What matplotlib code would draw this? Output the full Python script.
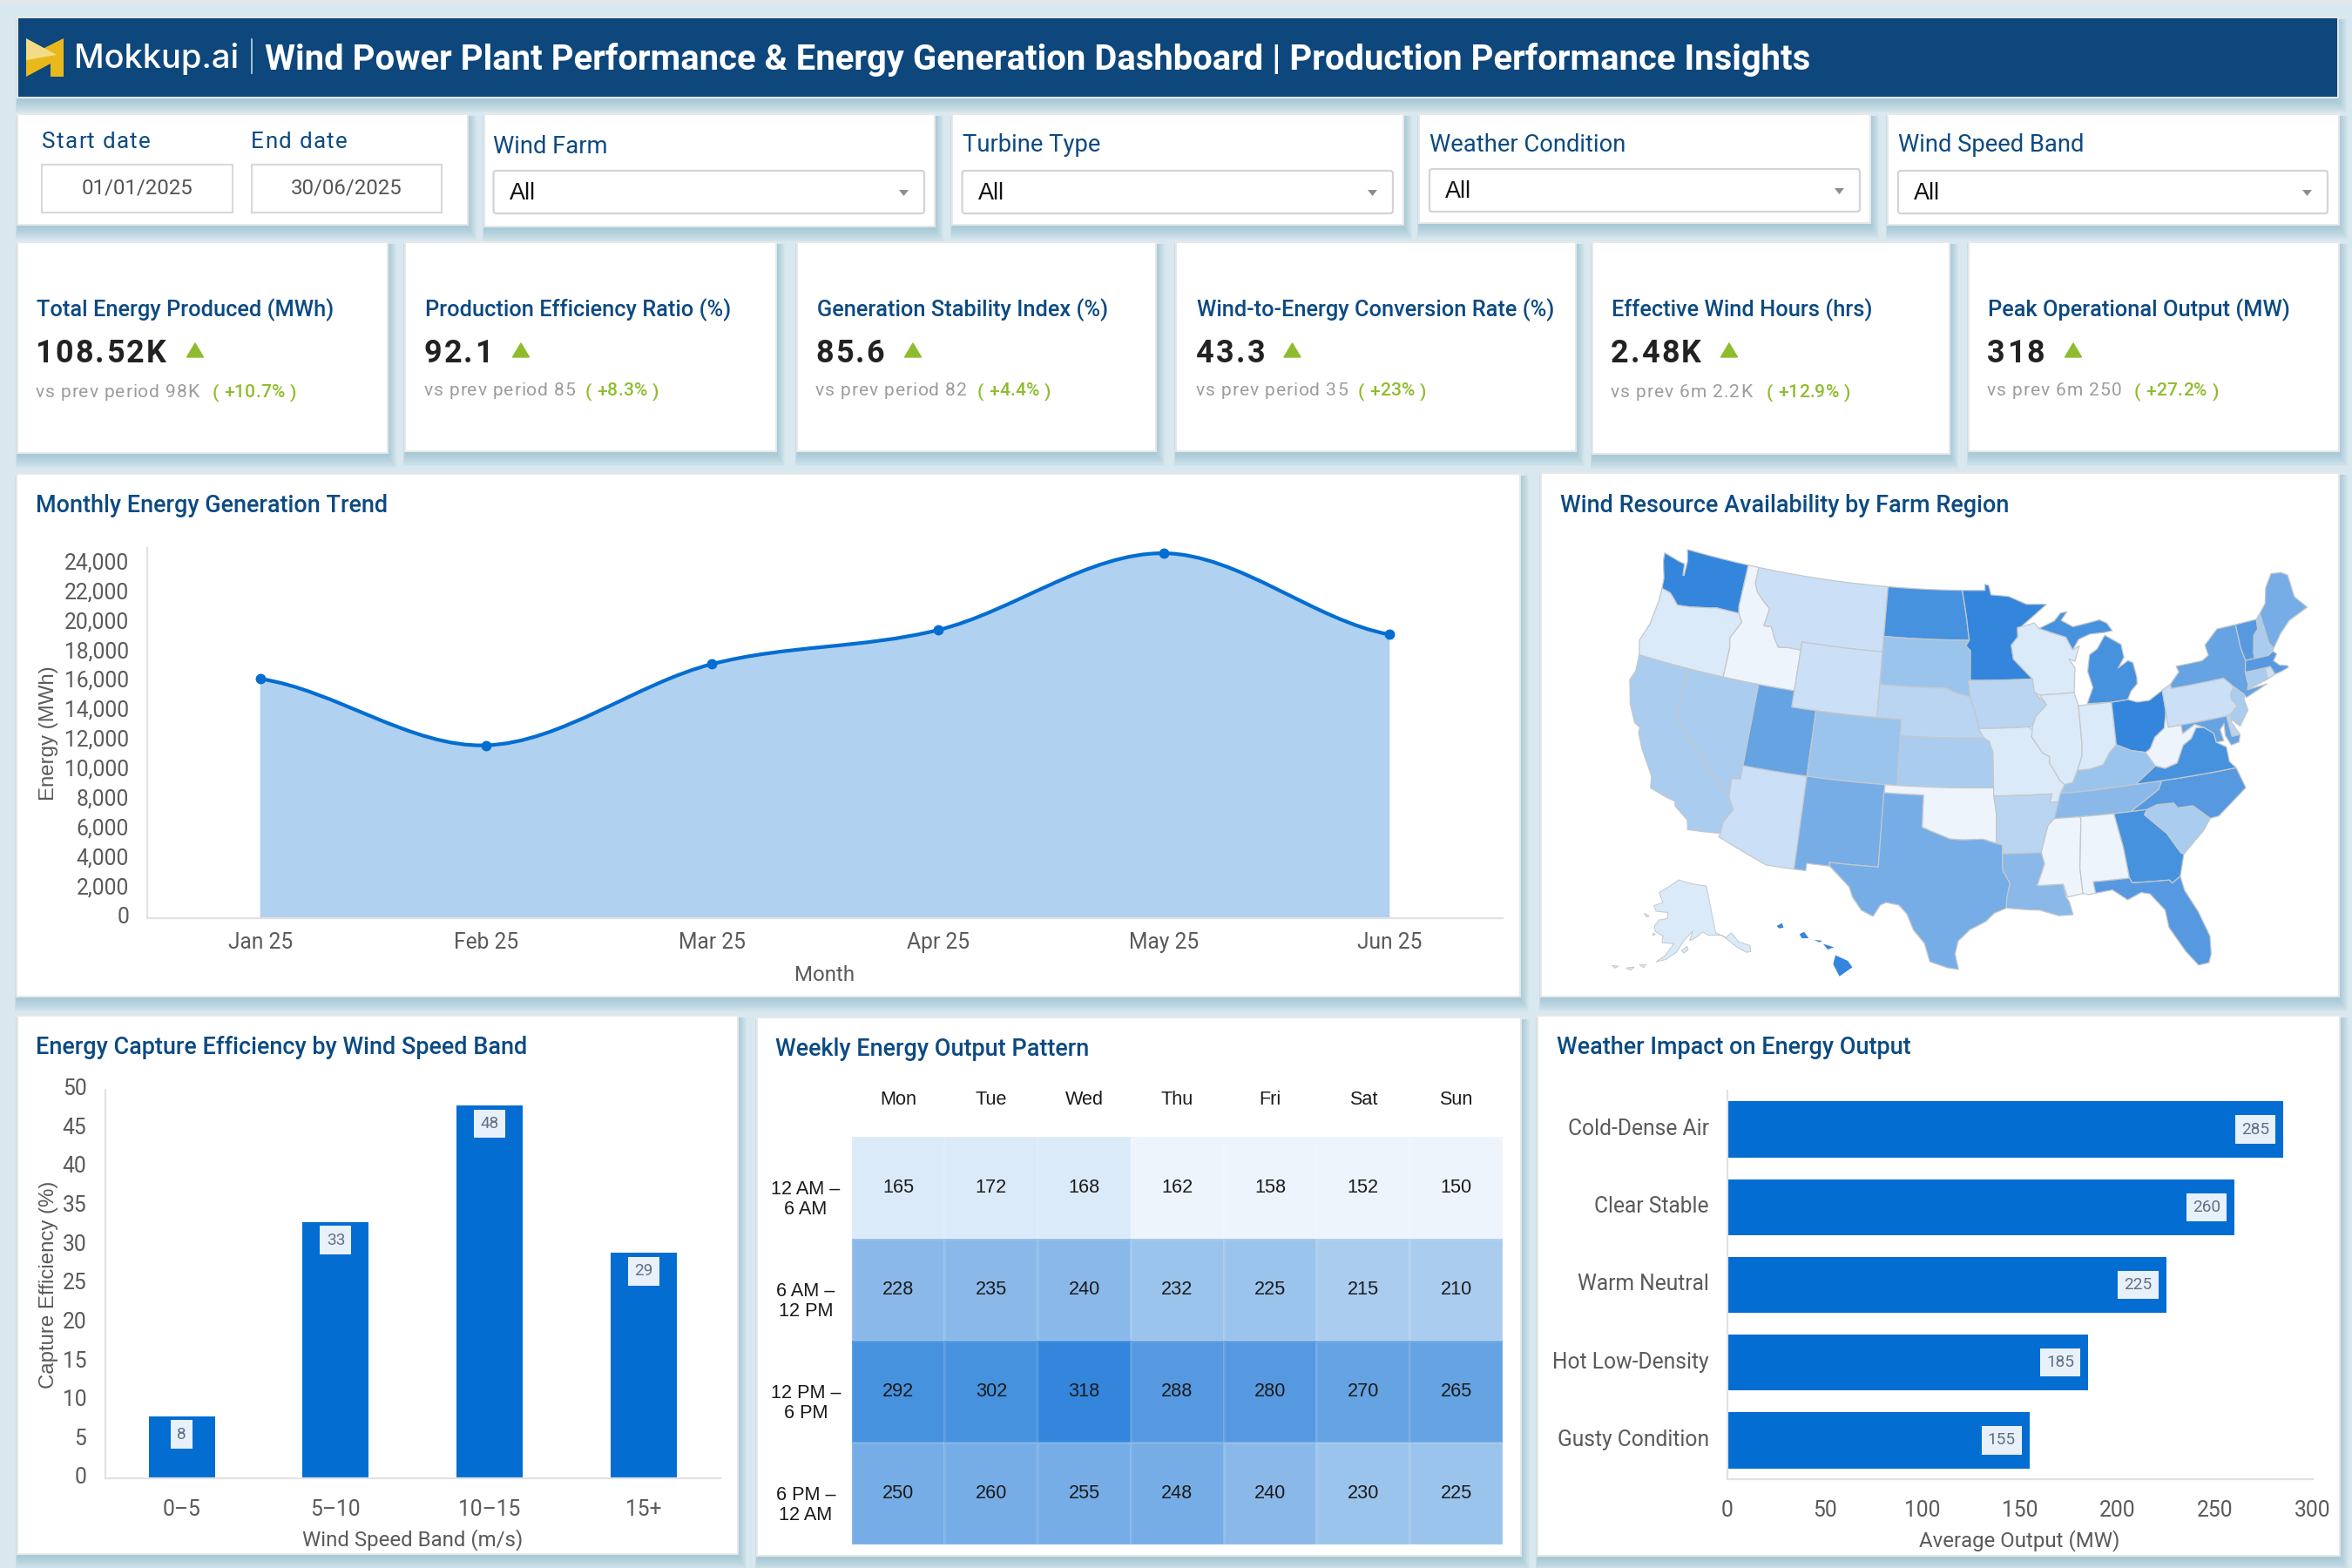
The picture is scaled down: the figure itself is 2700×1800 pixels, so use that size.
import numpy as np
import matplotlib
matplotlib.use('Agg')
import matplotlib.pyplot as plt
import matplotlib.patches as patches
from matplotlib.colors import ListedColormap
from matplotlib.font_manager import FontProperties
from matplotlib.path import Path
from matplotlib.textpath import text_to_path
from matplotlib.transforms import ScaledTranslation

W, H = 2700, 1800
NAVY = '#0d477c'
TITLE = '#0c4a82'
BAR = '#036dd1'
TICK = '#5a5a5a'
GREEN = '#8fbc2e'

# KPI cards
KPI_TITLES = ['Total Energy Produced (MWh)', 'Production Efficiency Ratio (%)', 'Generation Stability Index (%)',
              'Wind-to-Energy Conversion Rate (%)', 'Effective Wind Hours (hrs)', 'Peak Operational Output (MW)']
KPI_VALUES = ['108.52K', '92.1', '85.6', '43.3', '2.48K', '318']
KPI_PREV = ['vs prev period 98K', 'vs prev period 85', 'vs prev period 82',
            'vs prev period 35', 'vs prev 6m 2.2K', 'vs prev 6m 250']
KPI_DELTA = ['( +10.7% )', '( +8.3% )', '( +4.4% )', '( +23% )', '( +12.9% )', '( +27.2% )']

# Monthly trend
MONTHS = ['Jan 25', 'Feb 25', 'Mar 25', 'Apr 25', 'May 25', 'Jun 25']
ENERGY = [16200, 11700, 17200, 19500, 24700, 19200]

# Capture efficiency
BANDS = ['0–5', '5–10', '10–15', '15+']
EFFICIENCY = [8, 33, 48, 29]

# Heatmap
DAYS = ['Mon', 'Tue', 'Wed', 'Thu', 'Fri', 'Sat', 'Sun']
SLOTS = ['12 AM –\n6 AM', '6 AM –\n12 PM', '12 PM –\n6 PM', '6 PM –\n12 AM']
OUTPUT = [[165, 172, 168, 162, 158, 152, 150],
          [228, 235, 240, 232, 225, 215, 210],
          [292, 302, 318, 288, 280, 270, 265],
          [250, 260, 255, 248, 240, 230, 225]]
OUTPUT_SHADE = [[1, 1, 1, 0, 0, 0, 0],
                [6, 6, 6, 5, 5, 4, 4],
                [10, 10, 11, 9, 9, 8, 8],
                [7, 7, 7, 7, 6, 5, 5]]

# Weather impact
WEATHER = ['Cold-Dense Air', 'Clear Stable', 'Warm Neutral', 'Hot Low-Density', 'Gusty Condition']
WEATHER_OUTPUT = [285, 260, 225, 185, 155]

# Map shades, lightest to darkest
SHADES = ['#edf4fc', '#dbeaf8', '#cbe0f6', '#b9d5f1', '#aacdef', '#9bc4ec',
          '#8ab9e9', '#77ade6', '#65a3e3', '#5699e0', '#4792df', '#3386dc']
STATE_SHADE = {
    'WA': 11, 'OR': 1, 'ID': 0, 'MT': 2, 'WY': 2, 'CA': 4, 'NV': 4, 'UT': 8, 'AZ': 2, 'CO': 5, 'NM': 7,
    'ND': 10, 'SD': 5, 'NE': 3, 'KS': 4, 'OK': 0, 'TX': 7, 'MN': 11, 'IA': 3, 'MO': 1, 'AR': 3, 'LA': 6,
    'WI': 1, 'IL': 1, 'IN': 1, 'MI': 10, 'MIU': 10, 'OH': 11, 'KY': 5, 'TN': 6, 'MS': 0, 'AL': 0, 'GA': 10,
    'FL': 9, 'SC': 4, 'NC': 9, 'VA': 10, 'WV': 0, 'PA': 2, 'NY': 8, 'NJ': 4, 'DE': 3, 'MD': 8, 'CT': 4,
    'RI': 2, 'MA': 9, 'VT': 9, 'NH': 4, 'ME': 7,
}
# rough state outlines, lon/lat
STATES = {
    'WA': [(-124.7, 48.4), (-123.2, 48.15), (-122.7, 48.1), (-122.55, 47.4), (-122.45, 47.4), (-122.5, 48.3), (-122.8, 49), (-117.03, 49), (-117.04, 46.42), (-116.92, 45.99), (-118.98, 46), (-119.3, 45.93), (-121.2, 45.65), (-122.3, 45.55), (-122.8, 45.9), (-123.2, 46.15), (-124, 46.27), (-124.1, 46.9), (-124.6, 47.9)],
    'OR': [(-124, 46.27), (-123.2, 46.15), (-122.8, 45.9), (-122.3, 45.55), (-121.2, 45.65), (-119.3, 45.93), (-118.98, 46), (-116.92, 45.99), (-116.5, 45.5), (-117.2, 44.4), (-117.03, 43.8), (-117.03, 42), (-124.2, 42), (-124.55, 42.85), (-124.1, 44), (-123.95, 45.5)],
    'ID': [(-117.03, 49), (-116.05, 49), (-116.05, 48), (-115.7, 47.5), (-114.95, 47), (-114.35, 46.65), (-114.55, 45.56), (-113.9, 45.6), (-113.45, 44.95), (-113, 44.45), (-112, 44.53), (-111.05, 44.5), (-111.05, 42), (-117.03, 42), (-117.03, 43.8), (-117.2, 44.4), (-116.5, 45.5), (-116.92, 45.99), (-117.04, 46.42)],
    'MT': [(-116.05, 49), (-104.05, 49), (-104.05, 45), (-111.05, 45), (-111.05, 44.5), (-112, 44.53), (-113, 44.45), (-113.45, 44.95), (-113.9, 45.6), (-114.55, 45.56), (-114.35, 46.65), (-114.95, 47), (-115.7, 47.5), (-116.05, 48)],
    'WY': [(-111.05, 45), (-104.05, 45), (-104.05, 41), (-111.05, 41)],
    'NV': [(-120, 42), (-114.04, 42), (-114.04, 36.2), (-114.7, 36.1), (-114.63, 35), (-120, 39)],
    'CA': [(-124.2, 42), (-120, 42), (-120, 39), (-114.63, 35), (-114.13, 34.3), (-114.7, 33.4), (-114.72, 32.72), (-117.12, 32.53), (-117.3, 33.1), (-118.4, 33.75), (-118.5, 34.03), (-119.2, 34.15), (-120.5, 34.45), (-120.65, 35.15), (-121.9, 36.6), (-122.5, 37.5), (-122.5, 37.8), (-123, 38), (-123.75, 39), (-124.35, 40.4), (-124.1, 41)],
    'UT': [(-114.04, 42), (-111.05, 42), (-111.05, 41), (-109.05, 41), (-109.05, 37), (-114.04, 37)],
    'AZ': [(-114.04, 37), (-109.05, 37), (-109.05, 31.33), (-111.07, 31.33), (-114.8, 32.5), (-114.72, 32.72), (-114.7, 33.4), (-114.13, 34.3), (-114.63, 35), (-114.7, 36.1), (-114.04, 36.2)],
    'CO': [(-109.05, 41), (-102.05, 41), (-102.05, 37), (-109.05, 37)],
    'NM': [(-109.05, 37), (-103, 37), (-103.04, 32), (-106.6, 32), (-106.53, 31.78), (-108.2, 31.78), (-108.2, 31.33), (-109.05, 31.33)],
    'ND': [(-104.05, 49), (-97.23, 49), (-96.85, 47.5), (-96.56, 45.94), (-104.05, 45.94)],
    'SD': [(-104.05, 45.94), (-96.56, 45.94), (-96.85, 45.6), (-96.45, 45.3), (-96.45, 43.5), (-96.6, 43.5), (-96.45, 42.49), (-97.9, 42.8), (-98.5, 43), (-104.05, 43)],
    'NE': [(-104.05, 43), (-98.5, 43), (-97.9, 42.8), (-96.45, 42.49), (-96.1, 41.7), (-95.85, 41), (-95.31, 40), (-102.05, 40), (-102.05, 41), (-104.05, 41)],
    'KS': [(-102.05, 40), (-95.31, 40), (-94.9, 39.8), (-94.61, 39.1), (-94.62, 37), (-102.05, 37)],
    'OK': [(-103, 37), (-94.62, 37), (-94.43, 35.4), (-94.48, 33.64), (-95.5, 33.9), (-97, 33.85), (-97.9, 33.9), (-99.2, 34.3), (-100, 34.56), (-100, 36.5), (-103, 36.5)],
    'TX': [(-103.04, 36.5), (-100, 36.5), (-100, 34.56), (-99.2, 34.3), (-97.9, 33.9), (-97, 33.85), (-95.5, 33.9), (-94.48, 33.64), (-94.04, 33.55), (-94.04, 32), (-93.55, 31.2), (-93.8, 30.3), (-93.84, 29.7), (-94.7, 29.4), (-95.3, 28.9), (-96.4, 28.4), (-97.2, 27.7), (-97.4, 26.9), (-97.15, 25.96), (-97.9, 26.05), (-99.1, 26.4), (-99.5, 27.5), (-100.3, 28.3), (-100.8, 29.25), (-101.4, 29.77), (-102.3, 29.88), (-102.7, 29.7), (-103.15, 28.98), (-104, 29.3), (-104.7, 30.05), (-105, 30.65), (-106.53, 31.78), (-106.6, 32), (-103.04, 32)],
    'MN': [(-97.23, 49), (-95.15, 49), (-95.15, 49.38), (-94.8, 49.3), (-94.6, 48.72), (-93, 48.6), (-91.4, 48.07), (-89.6, 48), (-92, 46.7), (-92.3, 46.66), (-92.3, 46.1), (-92.9, 45.6), (-92.75, 44.75), (-91.2, 43.5), (-96.45, 43.5), (-96.45, 45.3), (-96.85, 45.6), (-96.56, 45.94), (-96.85, 47.5)],
    'IA': [(-96.45, 43.5), (-91.2, 43.5), (-91.1, 42.7), (-90.15, 41.9), (-91.1, 41.2), (-91.4, 40.6), (-91.73, 40.61), (-95.77, 40.58), (-95.85, 41), (-96.1, 41.7), (-96.45, 42.49), (-96.6, 43.5)],
    'MO': [(-95.77, 40.58), (-91.73, 40.61), (-91.4, 40.4), (-91.5, 40), (-90.7, 39), (-90.15, 38.75), (-90.2, 38.4), (-89.5, 37.3), (-89.13, 37), (-89.5, 36.5), (-89.7, 36), (-90.37, 36), (-90.15, 36.5), (-94.62, 36.5), (-94.62, 39.1), (-94.9, 39.8), (-95.31, 40)],
    'AR': [(-94.62, 36.5), (-90.15, 36.5), (-90.37, 36), (-89.7, 36), (-90.1, 35), (-90.6, 34.6), (-91.2, 33), (-94.04, 33), (-94.04, 33.55), (-94.48, 33.64), (-94.43, 35.4)],
    'LA': [(-94.04, 33), (-91.2, 33), (-91, 32.3), (-91.6, 31), (-89.75, 31), (-89.6, 30.2), (-89.4, 29.9), (-89.2, 29.1), (-90.2, 29.1), (-91.5, 29.5), (-92.3, 29.55), (-93.84, 29.7), (-93.8, 30.3), (-93.55, 31.2), (-94.04, 32)],
    'WI': [(-92.3, 46.66), (-92, 46.7), (-90.8, 46.9), (-90.4, 46.55), (-88.1, 45.9), (-87.6, 45.1), (-87, 45.3), (-87.5, 44.4), (-88, 44.55), (-87.55, 44), (-87.8, 42.5), (-90.65, 42.5), (-91.1, 42.7), (-91.2, 43.5), (-92.75, 44.75), (-92.9, 45.6), (-92.3, 46.1)],
    'IL': [(-90.65, 42.5), (-87.8, 42.5), (-87.53, 41.7), (-87.53, 39.3), (-87.6, 38.7), (-88.05, 37.8), (-88.5, 37.1), (-89.13, 37), (-89.5, 37.3), (-90.2, 38.4), (-90.15, 38.75), (-90.7, 39), (-91.5, 40), (-91.4, 40.6), (-91.1, 41.2), (-90.15, 41.9)],
    'IN': [(-87.53, 41.7), (-87, 41.7), (-84.8, 41.7), (-84.82, 39.1), (-85.4, 38.7), (-86, 38), (-87.1, 37.8), (-88.05, 37.8), (-87.6, 38.7), (-87.53, 39.3)],
    'OH': [(-84.8, 41.7), (-83.45, 41.73), (-82.7, 41.5), (-81.7, 41.5), (-80.52, 41.98), (-80.52, 40.64), (-80.85, 39.7), (-81.7, 39.25), (-82.2, 38.6), (-82.6, 38.42), (-83.7, 38.65), (-84.82, 39.1)],
    'MI': [(-86.8, 41.76), (-84.8, 41.7), (-83.45, 41.73), (-83.1, 42.2), (-82.5, 42.6), (-82.45, 43), (-82.6, 43.9), (-83, 44.07), (-83.9, 43.7), (-83.3, 44.3), (-83.4, 45.1), (-84.7, 45.78), (-85.5, 45), (-86.2, 44.7), (-86.5, 43.7), (-86.2, 42.7)],
    'MIU': [(-90.4, 46.55), (-89, 46.95), (-88.4, 47.4), (-87.8, 47.45), (-88.4, 46.95), (-87.4, 46.5), (-85, 46.75), (-84.4, 46.5), (-84, 46), (-84.7, 45.95), (-86, 45.95), (-87, 45.7), (-87.6, 45.1), (-88.1, 45.9)],
    'KY': [(-89.5, 36.5), (-89.13, 37), (-88.5, 37.1), (-88.05, 37.8), (-87.1, 37.8), (-86, 38), (-85.4, 38.7), (-84.82, 39.1), (-83.7, 38.65), (-82.6, 38.42), (-82, 37.53), (-83.68, 36.6), (-88.07, 36.5)],
    'TN': [(-90.1, 35), (-89.7, 36), (-89.5, 36.5), (-88.07, 36.5), (-83.68, 36.6), (-81.68, 36.59), (-82, 36.1), (-84.32, 35), (-85.6, 34.99), (-88.2, 35)],
    'MS': [(-90.1, 35), (-88.2, 35), (-88.1, 34.9), (-88.47, 31.9), (-88.4, 30.35), (-89.5, 30.2), (-89.75, 31), (-91.6, 31), (-91, 32.3), (-91.2, 33), (-90.6, 34.6)],
    'AL': [(-88.2, 35), (-85.6, 34.99), (-85.18, 32.87), (-85, 31), (-87.6, 31), (-87.5, 30.3), (-88, 30.25), (-88.4, 30.35), (-88.47, 31.9), (-88.1, 34.9)],
    'GA': [(-85.6, 34.99), (-83.1, 35), (-83.35, 34.7), (-81.9, 33.4), (-81.1, 32.1), (-80.9, 32), (-81.4, 30.7), (-82.05, 30.36), (-82.2, 30.57), (-84.86, 30.7), (-85, 31), (-85.18, 32.87)],
    'FL': [(-87.6, 31), (-85, 31), (-84.86, 30.7), (-82.2, 30.57), (-82.05, 30.36), (-81.4, 30.7), (-81.25, 29.8), (-80.55, 28.4), (-80.03, 26.8), (-80.15, 25.7), (-80.4, 25.2), (-81.1, 25.15), (-81.8, 26.1), (-82.7, 27.7), (-82.8, 28.8), (-83.7, 29.9), (-84.3, 30.05), (-85.3, 29.7), (-86.3, 30.4), (-87.5, 30.3)],
    'SC': [(-83.1, 35), (-82.3, 35.2), (-81.05, 35.15), (-80.8, 34.82), (-79.67, 34.8), (-78.55, 33.86), (-79.2, 33.2), (-80.9, 32), (-81.1, 32.1), (-81.9, 33.4), (-83.35, 34.7)],
    'NC': [(-84.32, 35), (-82, 36.1), (-81.68, 36.59), (-75.9, 36.55), (-75.5, 35.25), (-76.5, 34.7), (-77.9, 33.9), (-78.55, 33.86), (-79.67, 34.8), (-80.8, 34.82), (-81.05, 35.15), (-82.3, 35.2), (-83.1, 35)],
    'VA': [(-83.68, 36.6), (-81.68, 36.59), (-75.9, 36.55), (-76.3, 37), (-76.3, 37.9), (-77, 38.3), (-77.05, 38.85), (-77.72, 39.32), (-78.35, 39.4), (-78.9, 38.8), (-79.6, 38.5), (-80.3, 37.5), (-81.3, 37.3), (-82, 37.53)],
    'WV': [(-82.6, 38.42), (-82.2, 38.6), (-81.7, 39.25), (-80.85, 39.7), (-80.52, 40.64), (-80.52, 39.72), (-79.48, 39.72), (-79.48, 39.2), (-78.4, 39.62), (-77.72, 39.32), (-78.35, 39.4), (-78.9, 38.8), (-79.6, 38.5), (-80.3, 37.5), (-81.3, 37.3), (-82, 37.53)],
    'PA': [(-80.52, 41.98), (-79.76, 42.27), (-79.76, 42), (-75.35, 42), (-74.7, 41.36), (-75.1, 40.95), (-75.1, 40.6), (-74.75, 40.2), (-75.4, 39.8), (-75.79, 39.72), (-80.52, 39.72)],
    'NY': [(-79.76, 42), (-79.76, 42.27), (-78.9, 42.9), (-79.05, 43.27), (-76.8, 43.3), (-76.2, 43.55), (-76.3, 44.2), (-75, 45), (-73.35, 45), (-73.4, 43.6), (-73.25, 42.75), (-73.5, 42.05), (-73.5, 41.3), (-73.65, 41), (-72, 41.05), (-73.9, 40.55), (-74, 40.75), (-74.7, 41.36), (-75.35, 42)],
    'NJ': [(-74.7, 41.36), (-74, 40.75), (-74.1, 40.4), (-74, 39.8), (-74.9, 38.95), (-75.5, 39.5), (-75.4, 39.8), (-74.75, 40.2), (-75.1, 40.6), (-75.1, 40.95)],
    'DE': [(-75.79, 39.72), (-75.4, 39.8), (-75.5, 39.3), (-75.05, 38.45), (-75.7, 38.45)],
    'MD': [(-79.48, 39.72), (-75.79, 39.72), (-75.7, 38.45), (-75.05, 38.45), (-75.25, 38.03), (-75.9, 37.95), (-76.2, 38.6), (-76.1, 39.3), (-76.5, 39), (-76.4, 38.3), (-77, 38.3), (-77.05, 38.85), (-77.72, 39.32), (-78.4, 39.62), (-79.48, 39.2)],
    'CT': [(-73.5, 42.05), (-71.8, 42.02), (-71.85, 41.32), (-73.65, 41), (-73.5, 41.3)],
    'RI': [(-71.8, 42.02), (-71.38, 42.02), (-71.15, 41.5), (-71.85, 41.32)],
    'MA': [(-73.5, 42.05), (-73.25, 42.75), (-71.3, 42.7), (-70.85, 42.88), (-70.6, 42.65), (-71, 42.3), (-70.6, 41.95), (-70, 41.8), (-69.95, 41.68), (-70.65, 41.55), (-71.15, 41.5), (-71.38, 42.02), (-71.8, 42.02)],
    'VT': [(-73.35, 45), (-71.5, 45), (-71.6, 44.4), (-72.05, 44.1), (-72.45, 43), (-72.46, 42.73), (-73.25, 42.75), (-73.4, 43.6)],
    'NH': [(-71.5, 45), (-71.08, 45.3), (-70.98, 43.4), (-70.7, 43.05), (-70.85, 42.88), (-71.3, 42.7), (-72.46, 42.73), (-72.45, 43), (-72.05, 44.1), (-71.6, 44.4)],
    'ME': [(-71.08, 45.3), (-70.4, 45.8), (-70, 46.7), (-69.2, 47.45), (-68.3, 47.35), (-67.8, 47.07), (-67.8, 45.7), (-67, 44.85), (-68.8, 44.4), (-69.8, 43.8), (-70.7, 43.05), (-70.98, 43.4)],
}
ALASKA = [
    [(-141, 69.65), (-141, 60.3), (-137.5, 58.9), (-135, 59.5), (-133.5, 57.5), (-130, 56), (-130.5, 54.8), (-132, 55), (-134.5, 56.5), (-136.5, 58), (-139, 59.6), (-144, 60), (-146, 60.8), (-148.5, 60), (-151.5, 59.3), (-150, 61.2), (-153.5, 59.5), (-156.5, 57), (-160, 55.5), (-163.3, 54.8), (-160.5, 56.2), (-157.5, 58.7), (-162, 58.7), (-162, 60), (-165.3, 60.7), (-166, 61.7), (-164.5, 63), (-161, 63.5), (-161, 64.7), (-166.5, 64.6), (-168, 65.6), (-164, 66.5), (-166.7, 68.3), (-163, 69.5), (-156.7, 71.3), (-152, 70.8), (-148, 70.4)],
    [(-154.6, 57.4), (-152.5, 58.2), (-152.2, 57.5), (-153.8, 56.9)],
    [(-166, 60.3), (-165, 60.1), (-166, 59.8)],
    [(-171.5, 63.7), (-169, 63.4), (-170, 63.1)],
    [(-168.5, 53.6), (-166.5, 54), (-167, 53.3)],
    [(-172.5, 52.4), (-170, 53), (-171, 52.2)],
    [(-177, 52), (-175, 52.3), (-176, 51.7)],
]
HAWAII = [
    [(-155.9, 20.25), (-155.1, 19.9), (-154.8, 19.5), (-155.65, 18.95), (-156.05, 19.7)],
    [(-156.7, 20.95), (-156, 20.75), (-156.4, 20.6)],
    [(-157.3, 21.2), (-156.75, 21.15), (-156.95, 21.05)],
    [(-158.25, 21.55), (-157.95, 21.7), (-157.65, 21.3), (-158.1, 21.3)],
    [(-159.75, 22.05), (-159.4, 22.23), (-159.3, 21.95), (-159.6, 21.9)],
]

plt.rcParams['font.family'] = ['Roboto', 'DejaVu Sans']
plt.rcParams['axes.unicode_minus'] = False

fig = plt.figure(figsize=(27, 18), dpi=100, facecolor='#d9e8ef')
root = fig.add_axes([0, 0, 1, 1])
root.set_xlim(0, W)
root.set_ylim(H, 0)
root.axis('off')


def px(v):
    # pixels to points
    return v * 0.72


def px_axes(left, top, right, bottom):
    ax = fig.add_axes([left / W, 1 - bottom / H, (right - left) / W, (bottom - top) / H])
    ax.patch.set_alpha(0)
    return ax


def card(x0, y0, x1, y1, color='white'):
    # soft shadow, mostly below and to the right
    for i in range(10, 0, -1):
        root.add_patch(patches.Rectangle((x0 - i * 0.2, y0 + 2), x1 - x0 + i * 1.2, y1 - y0 + i * 1.5,
                                         fc='#6ba7bd', ec='none', alpha=0.05))
    root.add_patch(patches.Rectangle((x0, y0), x1 - x0, y1 - y0, fc=color, ec='#e8e8e8', lw=1.4))


def spaced(x, y, s, size, color, weight='normal', gap=0.0, family='Roboto'):
    # matplotlib has no letter spacing, so place the characters one by one
    prop = FontProperties(family=family, size=size, weight=weight)
    for i, ch in enumerate(s):
        w = text_to_path.get_text_width_height_descent(s[:i], prop, False)[0] * 100 / 72 if i else 0
        root.text(x + w + gap * i, y, ch, fontproperties=prop, color=color, ha='left', va='center_baseline')
    return x + text_to_path.get_text_width_height_descent(s, prop, False)[0] * 100 / 72 + gap * len(s)


def chart_title(x, y, s):
    root.text(x, y, s, fontsize=px(27), color=TITLE, fontweight='medium', ha='left', va='center')


root.add_patch(patches.Rectangle((0, 0), W, 3, fc='#e6e6e6', ec='none'))

# header
card(20, 20, 2684, 112, NAVY)
logo_dark = [(73, 44), (73, 88), (58, 88), (58, 73), (30, 88), (30, 68), (51, 55)]
logo_light = [(30, 44), (65, 63), (30, 69)]
root.add_patch(patches.Polygon(logo_dark, fc='#e9b91c', ec='none'))
root.add_patch(patches.Polygon(logo_light, fc='#f3dc85', ec='none'))
root.text(85, 68, 'Mokkup.ai', fontsize=px(38), color='white', family='Inter', fontweight='medium',
          ha='left', va='center')
root.plot([288.5, 288.5], [45, 84], color='#bcd6e6', lw=1.2)
root.text(304, 68, 'Wind Power Plant Performance & Energy Generation Dashboard | Production Performance Insights',
          fontsize=px(40), color='white', fontweight='bold', ha='left', va='center')

# filters
card(20, 131, 537, 258)
spaced(48, 161, 'Start date', px(26), TITLE, gap=1.3)
spaced(288, 161, 'End date', px(26), TITLE, gap=1.3)
for x0, x1, label in [(48, 267, '01/01/2025'), (288.5, 507, '30/06/2025')]:
    root.add_patch(patches.Rectangle((x0, 189), x1 - x0, 54.5, fc='white', ec='#d8d8d8', lw=1.5))
    root.text((x0 + x1) / 2, 215.6, label, fontsize=px(24), color='#555555', ha='center', va='center')

FILTERS = ['Wind Farm', 'Turbine Type', 'Weather Condition', 'Wind Speed Band']
filter_cards = [(556, 1073, 260), (1093, 1611, 258), (1629, 2147, 256), (2167, 2685, 258)]
filter_boxes = [(566.5, 1061, 166, 196), (1104.6, 1599, 164.6, 196), (1641, 2135, 164.6, 194), (2179, 2672, 164.6, 196)]
for name, (cx0, cx1, cb), (bx0, bx1, ly, by) in zip(FILTERS, filter_cards, filter_boxes):
    card(cx0, 131, cx1, cb)
    root.text(bx0, ly + 2, name, fontsize=px(27.4), color=TITLE, ha='left', va='center')
    root.add_patch(patches.FancyBboxPatch((bx0, by), bx1 - bx0, 49, boxstyle='round,pad=0,rounding_size=3',
                                          fc='white', ec='#d4d4d4', lw=1.6))
    root.text(bx0 + 18, by + 26, 'All', fontsize=px(27), color='#111111', family='Liberation Sans',
              ha='left', va='center')
    root.add_patch(patches.Polygon([(bx1 - 29, by + 22), (bx1 - 18, by + 22), (bx1 - 23.5, by + 29)],
                                   fc='#8a8f96', ec='none'))

# KPI cards
kpi_cards = [(20, 445, 520), (465, 891, 518), (915, 1327, 518), (1350, 1809, 518), (1828, 2238, 521), (2260, 2685, 518)]
kpi_title_x = [42, 488, 938.5, 1374, 1850, 2282]
kpi_value_x = [40.5, 486.5, 936, 1373, 1849, 2281]
kpi_tri_x = [224, 598, 1048, 1483.5, 1985, 2380]
kpi_vs_y = [448.7, 447, 447, 447, 448.7, 447]
kpi_delta_x = [243.6, 672, 1122, 1559, 2027.6, 2450]
for i in range(6):
    x0, x1, bottom = kpi_cards[i]
    card(x0, 277.5, x1, bottom)
    root.text(kpi_title_x[i], 356, KPI_TITLES[i], fontsize=px(25.4), color=TITLE, fontweight='medium',
              ha='left', va='center')
    spaced(kpi_value_x[i], 401.5, KPI_VALUES[i], px(36), '#222222', weight='bold', gap=2.2)
    t = kpi_tri_x[i]
    root.add_patch(patches.Polygon([(t - 9.5, 410), (t + 9.5, 410), (t, 394)], fc=GREEN, ec=GREEN, lw=1, joinstyle='round'))
    spaced(kpi_value_x[i], kpi_vs_y[i], KPI_PREV[i], px(21), '#9c9c9c', gap=0.9)
    spaced(kpi_delta_x[i], kpi_vs_y[i], KPI_DELTA[i], px(21), GREEN, weight='medium', gap=0.3)

# middle and bottom cards
card(19, 544, 1745, 1144)
card(1769, 543, 2685, 1144)
card(20, 1166, 847, 1784)
card(869, 1168, 1746, 1786)
card(1765, 1166, 2686, 1786)
chart_title(41, 581, 'Monthly Energy Generation Trend')
chart_title(1791, 581, 'Wind Resource Availability by Farm Region')
chart_title(41, 1203, 'Energy Capture Efficiency by Wind Speed Band')
chart_title(890, 1204.5, 'Weekly Energy Output Pattern')
chart_title(1787, 1203, 'Weather Impact on Energy Output')


def style_axis(ax, xpad=16):
    for side in ['top', 'right']:
        ax.spines[side].set_visible(False)
    for side in ['left', 'bottom']:
        ax.spines[side].set_color('#e2e2e2')
        ax.spines[side].set_linewidth(1.6)
    ax.tick_params(length=0, labelsize=px(24.6), labelcolor=TICK)
    ax.tick_params(axis='y', pad=px(21))
    ax.tick_params(axis='x', pad=px(xpad))


def raise_ylabels(ax, dy=3.2):
    # the reference sets its y tick labels a little above the tick position
    for label in ax.get_yticklabels():
        label.set_transform(label.get_transform() + ScaledTranslation(0, dy / 100, fig.dpi_scale_trans))


def axis_name(x, y, s, rotation=0):
    if rotation:
        root.text(x, y, s, fontsize=px(24), color=TICK, family='Liberation Sans', rotation=rotation,
                  ha='center', va='center', zorder=5)
    else:
        root.text(x, y, s, fontsize=px(24), color=TICK, ha='center', va='center', zorder=5)


# monthly trend
ax = px_axes(169, 629, 1725, 1054)
style_axis(ax)
xs = np.arange(len(MONTHS))
vals = np.array(ENERGY, dtype=float)
verts = [(xs[0], vals[0])]
codes = [Path.MOVETO]
for i in range(len(xs) - 1):
    prev_v = vals[max(i - 1, 0)]
    next_v = vals[min(i + 2, len(vals) - 1)]
    verts += [(xs[i] + 1 / 3, vals[i] + (vals[i + 1] - prev_v) / 6),
              (xs[i + 1] - 1 / 3, vals[i + 1] - (next_v - vals[i]) / 6),
              (xs[i + 1], vals[i + 1])]
    codes += [Path.CURVE4] * 3
area = Path(verts + [(xs[-1], 0), (xs[0], 0), (xs[0], vals[0])], codes + [Path.LINETO] * 3)
ax.add_patch(patches.PathPatch(area, fc='#b1d1f1', ec='none'))
ax.add_patch(patches.PathPatch(Path(verts, codes), fc='none', ec=BAR, lw=px(4.2)))
ax.plot(xs, vals, ls='none', marker='o', ms=px(10.5), color=BAR, clip_on=False)
ax.set_xlim(-0.5, 5.5)
ax.set_ylim(0, 25060)
ax.set_xticks(xs)
ax.set_xticklabels(MONTHS)
ax.set_yticks(range(0, 24001, 2000))
ax.set_yticklabels([f'{v:,}' for v in range(0, 24001, 2000)])
raise_ylabels(ax)
axis_name(947, 1119, 'Month')
axis_name(56, 842, 'Energy (MWh)', 90)

# capture efficiency
ax = px_axes(120.5, 1251, 827, 1697)
style_axis(ax, xpad=24)
ax.bar(range(len(BANDS)), EFFICIENCY, width=0.43, color=BAR)
for i, v in enumerate(EFFICIENCY):
    ax.annotate(str(v), (i, v), xytext=(0, -21), textcoords='offset pixels', ha='center', va='center',
                fontsize=px(19), color='#5f6f85',
                bbox=dict(boxstyle='square,pad=0.38', fc='#e8f1fa', ec='none'))
ax.set_xlim(-0.5, 3.5)
ax.set_ylim(0, 50)
ax.set_xticks(range(len(BANDS)))
ax.set_xticklabels(BANDS)
ax.set_yticks(range(0, 51, 5))
raise_ylabels(ax)
axis_name(474, 1768, 'Wind Speed Band (m/s)')
axis_name(56, 1475, 'Capture Efficiency (%)', 90)

# weekly heatmap
ax = px_axes(977.7, 1305, 1725, 1773)
ax.pcolormesh(np.array(OUTPUT_SHADE), cmap=ListedColormap(SHADES), vmin=-0.5, vmax=11.5,
              edgecolors=(1, 1, 1, 0.1), linewidth=0.8)
ax.set_xlim(0, 7)
ax.set_ylim(4, 0)
ax.axis('off')
for r, row in enumerate(OUTPUT):
    for c, v in enumerate(row):
        ax.text(c + 0.5, r + 0.5, str(v), fontsize=px(21.6), color='#1a1a1a', family='Liberation Sans',
                ha='center', va='center')
for c, day in enumerate(DAYS):
    ax.text(c + 0.5, -0.36, day, fontsize=px(21.6), color='#1a1a1a', family='Liberation Sans',
            ha='center', va='center')
for r, slot in enumerate(SLOTS):
    ax.text(-0.493, r + 0.615, slot, fontsize=px(21.6), color='#1a1a1a', family='Liberation Sans',
            ha='center', va='center', linespacing=1.1)

# weather impact
ax = px_axes(1982.7, 1252, 2654.7, 1698)
style_axis(ax, xpad=24)
ax.barh(range(len(WEATHER)), WEATHER_OUTPUT, height=0.72, color=BAR)
for i, v in enumerate(WEATHER_OUTPUT):
    ax.annotate(str(v), (v, i), xytext=(-32, 0), textcoords='offset pixels', ha='center', va='center',
                fontsize=px(19), color='#5f6f85',
                bbox=dict(boxstyle='square,pad=0.38', fc='#e8f1fa', ec='none'))
ax.set_xlim(0, 300)
ax.set_ylim(4.5, -0.5)
ax.set_yticks(range(len(WEATHER)))
ax.set_yticklabels(WEATHER)
ax.set_xticks(range(0, 301, 50))
raise_ylabels(ax)
axis_name(2318, 1768.5, 'Average Output (MW)')


# map
def albers(coords, lon0=-96.0, lat0=37.5, lat1=29.5, lat2=45.5):
    # densify so long borders follow the projection's curve
    pts = []
    for (a, b), (c, d) in zip(coords, coords[1:] + coords[:1]):
        n = max(int(abs(c - a)), 1)
        pts += [(a + (c - a) * k / n, b + (d - b) * k / n) for k in range(n)]
    lon, lat = np.radians(np.array(pts)).T
    s1, s2 = np.sin(np.radians(lat1)), np.sin(np.radians(lat2))
    n = (s1 + s2) / 2
    c = np.cos(np.radians(lat1)) ** 2 + 2 * n * s1
    rho0 = np.sqrt(c - 2 * n * np.sin(np.radians(lat0))) / n
    rho = np.sqrt(c - 2 * n * np.sin(lat)) / n
    theta = n * (lon - np.radians(lon0))
    return np.column_stack([rho * np.sin(theta), rho0 - rho * np.cos(theta)])


SCALE = 1079.0
CX, CY = 2268.0, 895.0
ax = px_axes(1770, 600, 2684, 1143)
ax.set_xlim((1770 - CX) / SCALE, (2684 - CX) / SCALE)
ax.set_ylim((CY - 1143) / SCALE, (CY - 600) / SCALE)
ax.axis('off')
EDGE = '#c4c8cc'
for name, coords in STATES.items():
    ax.add_patch(patches.Polygon(albers(coords), fc=SHADES[STATE_SHADE[name]], ec=EDGE, lw=0.9, joinstyle='round'))

# Alaska inset, anchored on its north tip
ak_ref = albers([(-156.7, 71.3)], lon0=-154, lat0=58, lat1=55, lat2=65)[0]
for coords in ALASKA:
    p = albers(coords, lon0=-154, lat0=58, lat1=55, lat2=65)
    p = (p - ak_ref) * 335 / SCALE + [(1927 - CX) / SCALE, (CY - 1010) / SCALE]
    ax.add_patch(patches.Polygon(p, fc=SHADES[1], ec=EDGE, lw=0.7))

# Hawaii inset, anchored on Kauai
hi_ref = albers([(-159.5, 22.05)], lon0=-157, lat0=20, lat1=8, lat2=18)[0]
for coords in HAWAII:
    p = albers(coords, lon0=-157, lat0=20, lat1=8, lat2=18)
    p = (p - hi_ref) * 1070 / SCALE + [(2044 - CX) / SCALE, (CY - 1063) / SCALE]
    ax.add_patch(patches.Polygon(p, fc=SHADES[11], ec='none'))

fig.savefig('out.png', dpi=100, facecolor=fig.get_facecolor())
plt.close(fig)
